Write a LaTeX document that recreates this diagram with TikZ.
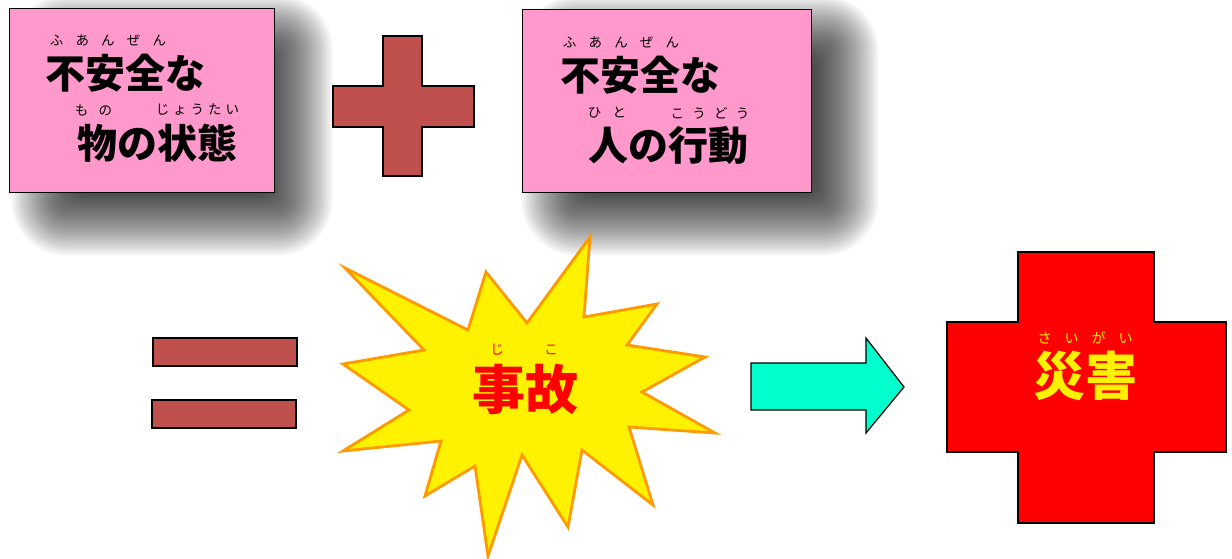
\documentclass[tikz,border=0pt]{standalone}
\usepackage{fontspec}
\newfontfamily\jp{Noto Sans CJK JP}
\definecolor{boxpink}{HTML}{FF99CC}
\definecolor{brick}{HTML}{C0504D}
\definecolor{aqua}{HTML}{00FFCC}
\definecolor{starorange}{HTML}{FF9900}
\newcommand\gp[1]{\hspace{#1pt}}
\newcommand\softshadow[4]{%
  \foreach \r in {-40,-38.5,...,45}{%
    \pgfmathsetmacro\rc{max(\r,0)+12}%
    \fill[black,opacity=0.022,rounded corners=\rc pt] (#1-\r,#2-\r) rectangle (#3+\r,#4+\r);
  }%
}
\tikzset{
  card/.style={draw=black,line width=1.4pt,fill=boxpink,inner sep=0pt,anchor=north west},
  big/.style={font=\jp\bfseries\fontsize{40}{40}\selectfont,inner sep=0pt},
  huge/.style={font=\jp\bfseries\fontsize{53}{53}\selectfont,inner sep=0pt},
  ruby/.style={font=\jp\fontsize{13.5}{13.5}\selectfont,inner sep=0pt},
  brickshape/.style={draw=black,line width=1.4pt,fill=brick},
}
\begin{document}
\begin{tikzpicture}[x=1pt,y=-1pt]
\useasboundingbox (0,0) rectangle (1232,558);
\fill[white] (0,0) rectangle (1232,558);
% shadows
\softshadow{55}{38}{289}{212}
\softshadow{565}{39}{835}{212}
% cards
\node[card,minimum width=265pt,minimum height=184pt] (c1) at (9,8) {};
\node[card,minimum width=289pt,minimum height=183pt] (c2) at (522,9) {};
% left card text
\node[ruby] (r1) at (108,40) {ふ\gp{12.2}あ\gp{12.2}ん\gp{12.2}ぜ\gp{12.2}ん};
\node[big] (t1) at (125.5,73) {不安全な};
\node[ruby] (r2) at (93.5,110) {も\gp{10.5}の};
\node[ruby] (r3) at (197.5,110) {じ\gp{4}ょ\gp{4}う\gp{4}た\gp{4}い};
\node[big] (t2) at (157,143.5) {物の状態};
% right card text
\node[ruby] (r4) at (621,42) {ふ\gp{12.2}あ\gp{12.2}ん\gp{12.2}ぜ\gp{12.2}ん};
\node[big] (t3) at (640,75) {不安全な};
\node[ruby] (r5) at (607,113) {ひ\gp{11.5}と};
\node[ruby] (r6) at (710,113) {こ\gp{8.2}う\gp{8.2}ど\gp{8.2}う};
\node[big] (t4) at (668.5,145) {人の行動};
% plus
\draw[brickshape] (383,36) -- (422,36) -- (422,86) -- (474,86) -- (474,127) -- (422,127) -- (422,176) -- (383,176) -- (383,127) -- (333,127) -- (333,86) -- (383,86) -- cycle;
% equals
\draw[brickshape] (153,338) rectangle (297,366);
\draw[brickshape] (152,400) rectangle (296,428);
% star
\draw[line width=2.8pt,draw=starorange,fill=yellow,line join=miter]
  (345,268) -- (468,330) -- (486,272) -- (527,323) -- (590,237) -- (584,317) -- (657,304) -- (627,345) -- (705,357) -- (642,392) -- (715,433) -- (629,427) -- (653,505) -- (582,450) -- (568,527) -- (522,455) -- (488,556) -- (475,466) -- (425,496) -- (441,441) -- (343,451) -- (409,410) -- (343,364) -- (424,350) -- cycle;
\node[ruby,text=red] (j1) at (497,350) {じ};
\node[ruby,text=red] (j2) at (551,350) {こ};
\node[huge,text=red] (t5) at (525,389) {事故};
% arrow
\draw[line width=1.2pt,fill=aqua,line join=miter] (751,363) -- (866,363) -- (866,338) -- (904,387) -- (866,433) -- (866,410) -- (751,410) -- cycle;
% red cross
\draw[line width=1.4pt,fill=red] (1018,252) -- (1154,252) -- (1154,322) -- (1226,322) -- (1226,452) -- (1154,452) -- (1154,523) -- (1018,523) -- (1018,452) -- (947,452) -- (947,322) -- (1018,322) -- cycle;
\node[ruby,text=yellow,font=\jp\fontsize{14}{14}\selectfont] (s1) at (1085,338) {さ\gp{13}い\gp{13}が\gp{13}い};
\node[huge,text=yellow,font=\jp\bfseries\fontsize{52}{52}\selectfont] (t6) at (1085,376) {災害};
\end{tikzpicture}
\end{document}
